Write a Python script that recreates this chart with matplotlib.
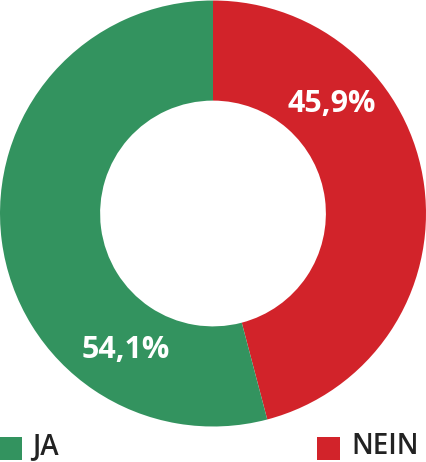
import matplotlib
matplotlib.use('agg')
import matplotlib.pyplot as plt
from matplotlib.patches import Rectangle

# data
categories = ['NEIN', 'JA']
values = [45.9, 54.1]
colors = ['#d2232a', '#33935f']
value_labels = ['45,9%', '54,1%']

fig = plt.figure(figsize=(4.26, 4.62), dpi=100)
ax = fig.add_axes([0.0, 35 / 462, 1.0, 427 / 462])
wedges, _ = ax.pie(values, colors=colors, startangle=90, counterclock=False,
                   radius=1.0, wedgeprops=dict(width=0.47, linewidth=0))
ax.set_xlim(-1.0, 1.0)
ax.set_ylim(-1.0, 1.0)
ax.set_aspect('equal')
ax.axis('off')

# value labels (placed where the original has them)
label_pos = [(0.556, 0.514), (-0.41, -0.64)]
for (x, y), txt in zip(label_pos, value_labels):
    ax.text(x, y, txt, color='white', fontsize=22, fontweight='bold',
            family='Open Sans', ha='center', va='center')

# legend at the bottom
lax = fig.add_axes([0, 0, 1, 35 / 462])
lax.set_xlim(0, 426)
lax.set_ylim(0, 35)
lax.axis('off')
lax.add_patch(Rectangle((0, 2), 22, 23, color=colors[1], lw=0))
lax.text(32, 0.5, categories[1], color='#222222', fontsize=20, fontweight='semibold',
         family='Open Sans', ha='left', va='bottom')
lax.add_patch(Rectangle((317, 2), 23, 23, color=colors[0], lw=0))
lax.text(351, 0.5, categories[0], color='#222222', fontsize=20, fontweight='semibold',
         family='Open Sans', ha='left', va='bottom')

fig.savefig('out.png', dpi=100)
